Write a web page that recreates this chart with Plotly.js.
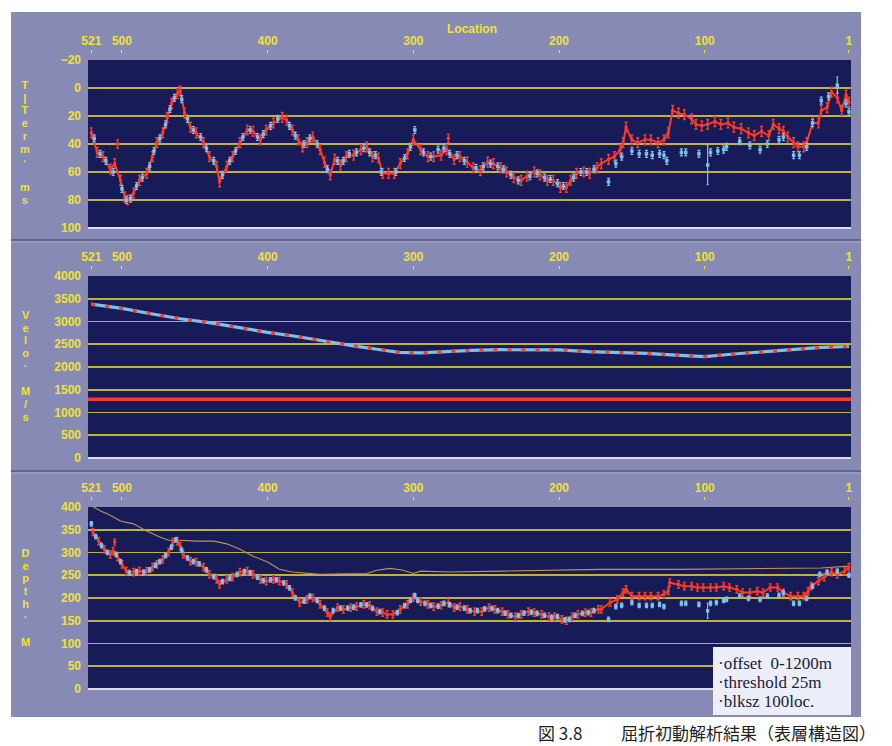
<!DOCTYPE html>
<html>
<head>
<meta charset="utf-8">
<script src="https://cdn.plot.ly/plotly-3.0.1.min.js"></script>
<style>html,body{margin:0;padding:0;background:#fff;}#chart{width:892px;height:746px;}</style>
</head>
<body>
<div id="chart"></div>
<script>
// ---------- data ----------
const xTickVals = [521, 500, 400, 300, 200, 100, 1];
const xTickText = ['521', '500', '400', '300', '200', '100', '1'];

// T-Term (ms) — red picks
const tRedLoc = [521,517,513,508,505,501,498,496,492,488,483,479,476,472,469,466,462,460,457,453,449,444,440,435,433,428,424,419,414,410,405,401,396,390,387,383,379,376,373,369,364,361,357,354,350,346,341,336,332,328,324,321,317,313,309,304,300,295,290,286,281,277,272,268,263,259,254,249,245,240,236,231,226,222,217,213,208,204,199,195,192,188,183,179,174,171,166,162,158,156,154,150,146,141,137,132,128,125,122,118,114,109,106,102,98,93,89,84,80,75,70,66,61,56,53,49,46,43,39,36,32,30,26,22,20,16,13,9,6,3,1];
const tRedVal = [32,46,49,58,54,66,78,80,75,66,61,49,39,32,21,11,4,2,18,28,32,39,49,56,67,56,49,39,30,31,37,30,25,21,23,30,37,42,39,35,44,53,62,51,55,49,48,44,42,49,50,61,61,61,54,47,37,44,49,49,48,44,51,49,53,57,59,53,54,57,60,64,66,63,60,62,66,66,71,71,66,61,60,61,57,54,51,49,44,39,28,37,39,37,37,39,37,32,16,18,19,22,26,27,26,24,26,25,28,29,32,34,31,34,26,29,31,35,39,42,42,39,25,25,16,14,3,7,16,5,10];
const tRedOutLoc = [503, 276];
const tRedOutVal = [40, 36];
// T-Term — blue picks
const tBlueLoc = [519,515,511,506,500,497,494,490,486,481,478,474,470,467,464,459,455,451,446,442,437,431,426,422,417,412,407,403,398,393,385,381,375,371,366,359,352,348,344,339,334,330,326,322,312,306,302,299,293,288,283,279,275,270,265,257,252,247,242,238,233,228,220,215,210,206,201,197,190,185,181,176,166,161,157,150,145,140,136,131,128,126,116,113,104,96,91,87,85,76,69,62,57,49,46,39,35,30,26,20,15,3,1];
const tBlueVal = [36,47,52,60,72,80,79,70,64,56,45,36,26,15,7,8,22,30,35,43,52,62,52,45,35,30,35,33,27,22,27,34,40,36,40,58,52,52,47,46,43,46,48,60,60,50,42,30,46,49,44,43,47,48,52,57,56,54,56,58,62,66,63,61,64,65,68,70,64,60,60,58,67,54,49,45,47,47,48,47,48,52,46,46,47,46,45,44,42,38,41,44,40,37,35,48,48,42,25,9,6,11,17];
const tBlueBarLoc = [98, 9];
const tBlueBarVal = [55, -2];
const tBlueBarErr = [14, 6];

// Velocity (m/s)
const vLoc = [521,500,480,460,440,420,400,380,360,340,325,310,295,280,260,240,220,200,180,160,140,120,100,80,60,40,20,1];
const vVal = [3380,3290,3170,3060,2975,2860,2760,2670,2560,2460,2390,2320,2310,2335,2365,2380,2385,2375,2340,2320,2300,2260,2230,2285,2330,2390,2430,2450];
const vRefLoc = [524, -1];
const vRefVal = [1290, 1290];

// Depth (m) — red picks
const dRedLoc = [520,516,512,508,506,503,500,497,492,488,483,479,476,472,468,465,462,460,458,453,449,444,440,435,433,428,424,419,414,410,405,401,396,392,387,383,378,373,369,364,359,357,352,348,343,339,334,330,325,321,318,314,309,304,300,295,290,286,281,276,272,268,263,258,253,248,244,239,235,230,226,221,217,212,207,203,198,195,191,187,182,178,173,171,165,160,156,154,150,145,141,137,132,128,125,124,118,114,109,105,101,96,92,87,83,78,74,69,64,60,55,50,46,41,36,32,29,27,22,18,13,9,4,1];
const dRedVal = [345,325,307,296,303,290,274,259,257,259,259,268,274,285,301,323,325,314,296,281,279,268,252,241,230,241,246,257,259,252,241,237,241,237,230,212,190,197,200,186,168,159,179,175,179,181,186,184,170,168,164,164,175,186,201,192,186,181,184,190,179,181,175,170,170,179,175,170,164,159,164,170,168,164,159,159,153,150,159,164,168,168,175,175,190,197,212,219,204,204,204,204,204,208,215,234,230,226,226,223,223,223,223,226,223,219,212,212,215,212,223,223,212,204,204,204,215,226,237,246,257,252,259,268];
const dRedOutLoc = [505];
const dRedOutVal = [323];
// Depth — blue picks
const dBlueLoc = [521,518,514,510,504,501,495,490,485,481,477,474,470,466,463,459,455,451,447,442,437,431,426,421,416,412,407,403,398,394,389,385,381,375,371,366,361,355,350,345,341,336,332,328,323,311,306,302,299,297,292,288,283,279,275,270,265,261,256,251,246,242,237,233,228,224,219,215,210,205,201,196,193,189,184,180,176,166,161,157,150,145,140,136,131,128,116,113,104,96,92,87,85,76,70,62,57,49,46,39,35,30,26,21,16,9,1];
const dBlueVal = [363,335,315,300,296,280,256,258,257,262,272,280,293,312,328,305,288,280,275,262,247,236,243,252,258,256,246,238,240,240,233,222,200,193,204,195,178,172,178,178,180,185,185,177,170,168,183,195,205,195,188,184,182,188,185,180,178,172,172,176,177,172,167,162,161,167,169,166,162,158,159,152,153,162,166,168,172,153,181,184,190,184,184,184,186,181,188,188,186,188,190,195,197,204,199,197,204,206,212,188,188,199,226,252,257,259,250];
const dBlueBarLoc = [98];
const dBlueBarVal = [172];
const dBlueBarErr = [17];
// Depth — thin reference line
const dLineLoc = [520,514,510,501,492,483,474,468,460,449,437,428,419,410,400,392,383,373,364,345,332,325,316,307,300,295,275,240,200,172,120,60,20,1];
const dLineVal = [401,390,385,369,363,347,334,327,327,325,325,319,307,292,279,263,257,254,252,253,254,261,265,261,254,259,257,259,261,263,263,265,266,270];

// ---------- styling ----------
const W = 892, H = 746;
const px = x => x / W, py = y => 1 - y / H;
const F = '"Liberation Sans", Arial, sans-serif';
const yellow = '#f0e236', grid = '#c2b23a', navy = '#171b58', bgGray = '#878ab4';
const red = '#ff3b26', blue = '#7cc0ee';
const xDom = [px(88), px(851)];
const xr = [523.3, -0.4];
const tickFont = {family: F, size: 12, color: yellow, weight: 'bold'};

function xax(pos) {
  return {domain: xDom, range: xr, anchor: 'free', position: pos, side: 'top',
    tickmode: 'array', tickvals: xTickVals, ticktext: xTickText,
    ticks: 'outside', ticklen: 3, tickwidth: 1, tickcolor: yellow,
    showgrid: false, zeroline: false, showline: false, tickfont: tickFont, fixedrange: true};
}
function yLab(dom, range, vals, anchor) {
  return {domain: dom, range: range, anchor: anchor, tickmode: 'array', tickvals: vals,
    showgrid: false, zeroline: false, showline: false, ticks: '', ticklabelstandoff: 6,
    tickfont: tickFont, fixedrange: true};
}
function yGrid(over, range, vals, anchor) {
  return {overlaying: over, anchor: anchor, range: range, tickmode: 'array', tickvals: vals,
    showgrid: true, gridcolor: grid, gridwidth: 1.6, showticklabels: false,
    zeroline: false, showline: false, ticks: '', fixedrange: true};
}

const traces = [
  // top panel
  {x: tRedLoc, y: tRedVal, xaxis: 'x', yaxis: 'y', type: 'scatter', mode: 'lines+markers',
   line: {color: red, width: 2}, marker: {color: red, size: 3, symbol: 'square'},
   error_y: {type: 'constant', value: 3.5, color: red, thickness: 1.4, width: 1.5}},
  {x: tRedOutLoc, y: tRedOutVal, xaxis: 'x', yaxis: 'y', type: 'scatter', mode: 'markers',
   marker: {color: red, size: 3, symbol: 'square'},
   error_y: {type: 'constant', value: 3, color: red, thickness: 1.3, width: 1.5}},
  {x: tBlueLoc, y: tBlueVal, xaxis: 'x', yaxis: 'y4', type: 'scatter', mode: 'markers',
   marker: {color: blue, size: 3.5, symbol: 'square'},
   error_y: {type: 'constant', value: 2.5, color: blue, thickness: 1.2, width: 1.5}},
  {x: tBlueBarLoc, y: tBlueBarVal, xaxis: 'x', yaxis: 'y4', type: 'scatter', mode: 'markers',
   marker: {color: blue, size: 3.5, symbol: 'square'},
   error_y: {type: 'data', array: tBlueBarErr, color: blue, thickness: 1.2, width: 1}},
  // middle panel
  {x: vRefLoc, y: vRefVal, xaxis: 'x2', yaxis: 'y2', type: 'scatter', mode: 'lines',
   line: {color: '#ff3a2c', width: 3.5}},
  {x: vLoc, y: vVal, xaxis: 'x2', yaxis: 'y5', type: 'scatter', mode: 'lines',
   line: {color: blue, width: 3.2}},
  {x: vLoc, y: vVal, xaxis: 'x2', yaxis: 'y5', type: 'scatter', mode: 'lines',
   line: {color: red, width: 3.2, dash: '4px,10px'}},
  // bottom panel
  {x: dLineLoc, y: dLineVal, xaxis: 'x3', yaxis: 'y3', type: 'scatter', mode: 'lines',
   line: {color: '#c09464', width: 1.1}},
  {x: dRedLoc, y: dRedVal, xaxis: 'x3', yaxis: 'y3', type: 'scatter', mode: 'lines+markers',
   line: {color: red, width: 2}, marker: {color: red, size: 3, symbol: 'square'},
   error_y: {type: 'constant', value: 8, color: red, thickness: 1.4, width: 1.5}},
  {x: dRedOutLoc, y: dRedOutVal, xaxis: 'x3', yaxis: 'y3', type: 'scatter', mode: 'markers',
   marker: {color: red, size: 3, symbol: 'square'},
   error_y: {type: 'constant', value: 7, color: red, thickness: 1.3, width: 1.5}},
  {x: dBlueLoc, y: dBlueVal, xaxis: 'x3', yaxis: 'y6', type: 'scatter', mode: 'markers',
   marker: {color: blue, size: 3.5, symbol: 'square'},
   error_y: {type: 'constant', value: 5, color: blue, thickness: 1.2, width: 1.5}},
  {x: dBlueBarLoc, y: dBlueBarVal, xaxis: 'x3', yaxis: 'y6', type: 'scatter', mode: 'markers',
   marker: {color: blue, size: 3.5, symbol: 'square'},
   error_y: {type: 'data', array: dBlueBarErr, color: blue, thickness: 1.2, width: 1}}
];

// vertical stacked axis titles: one text each; line pitch just above glyph height
const NB = '\u00a0';
const vTitles = [
  {chars: ['T','|','T','e','r','m','\u00b7',NB,'m','s'], y: 142.5},
  {chars: ['V','e','l','o','\u00b7',NB,'M','/','s'], y: 366.5},
  {chars: ['D','e','p','t','h','\u00b7',NB,'M'], y: 597.5}
];
const annotations = [];
vTitles.forEach(t => annotations.push({
  text: t.chars.map(c => '<span style="font-size:11px">' + c + '</span>').join('<br>'),
  xref: 'paper', yref: 'paper', x: px(25), y: py(t.y), xanchor: 'center', yanchor: 'middle',
  align: 'center', showarrow: false, font: {family: F, size: 9.8, color: yellow, weight: 'bold'}}));
annotations.push({text: 'Location', xref: 'paper', yref: 'paper', x: px(472), y: py(29),
  xanchor: 'center', yanchor: 'middle', showarrow: false, font: {family: F, size: 12, color: yellow, weight: 'bold'}});
const legendLines = [['\u00b7offset\u00a0\u00a00-1200m', 663], ['\u00b7threshold 25m', 682], ['\u00b7blksz 100loc.', 701]];
legendLines.forEach(([t, yy]) => annotations.push({text: t, xref: 'paper', yref: 'paper', x: px(716), y: py(yy),
  xanchor: 'left', yanchor: 'middle', showarrow: false,
  font: {family: '"Liberation Serif", "Times New Roman", serif', size: 17, color: '#20203c'}}));
const capFont = {family: '"Noto Sans CJK JP", sans-serif', size: 17, color: '#1e1e1e'};
annotations.push({text: '図 3.8', xref: 'paper', yref: 'paper', x: px(536), y: py(732), xanchor: 'left', yanchor: 'middle', showarrow: false, font: capFont});
annotations.push({text: '屈折初動解析結果（表層構造図）', xref: 'paper', yref: 'paper', x: px(619), y: py(732), xanchor: 'left', yanchor: 'middle', showarrow: false, font: capFont});

const shapes = [
  // white paper outside the grey board
  {type: 'rect', xref: 'paper', yref: 'paper', x0: 0, x1: 1, y0: py(12), y1: 1, fillcolor: '#fff', line: {width: 0}, layer: 'below'},
  {type: 'rect', xref: 'paper', yref: 'paper', x0: 0, x1: 1, y0: 0, y1: py(717), fillcolor: '#fff', line: {width: 0}, layer: 'below'},
  {type: 'rect', xref: 'paper', yref: 'paper', x0: 0, x1: px(11), y0: 0, y1: 1, fillcolor: '#fff', line: {width: 0}, layer: 'below'},
  {type: 'rect', xref: 'paper', yref: 'paper', x0: px(861), x1: 1, y0: 0, y1: 1, fillcolor: '#fff', line: {width: 0}, layer: 'below'},
  // panel separators
  {type: 'line', xref: 'paper', yref: 'paper', x0: px(11), x1: px(861), y0: py(240), y1: py(240), line: {color: '#56587c', width: 1.5}, layer: 'below'},
  {type: 'line', xref: 'paper', yref: 'paper', x0: px(11), x1: px(861), y0: py(242), y1: py(242), line: {color: '#a3a6cc', width: 1}, layer: 'below'},
  {type: 'line', xref: 'paper', yref: 'paper', x0: px(11), x1: px(861), y0: py(471), y1: py(471), line: {color: '#56587c', width: 1.5}, layer: 'below'},
  {type: 'line', xref: 'paper', yref: 'paper', x0: px(11), x1: px(861), y0: py(473), y1: py(473), line: {color: '#a3a6cc', width: 1}, layer: 'below'},
  // light baseline under each plot
  {type: 'line', xref: 'x domain', yref: 'y domain', x0: 0, x1: 1, y0: 0, y1: 0, line: {color: '#dcdff2', width: 2}},
  {type: 'line', xref: 'x2 domain', yref: 'y2 domain', x0: 0, x1: 1, y0: 0, y1: 0, line: {color: '#dcdff2', width: 2}},
  {type: 'line', xref: 'x3 domain', yref: 'y3 domain', x0: 0, x1: 1, y0: 0, y1: 0, line: {color: '#dcdff2', width: 2}},
  // legend box
  {type: 'rect', xref: 'paper', yref: 'paper', x0: px(713), x1: px(851), y0: py(715), y1: py(647), fillcolor: '#eceffa', line: {width: 0}, layer: 'above'}
];

const layout = {
  width: W, height: H, margin: {l: 0, r: 0, t: 0, b: 0},
  paper_bgcolor: bgGray, plot_bgcolor: navy, showlegend: false, hovermode: false,
  xaxis: xax(py(53)), xaxis2: xax(py(269)), xaxis3: xax(py(500)),
  yaxis: yLab([py(228), py(60)], [100, -20], [-20, 0, 20, 40, 60, 80, 100], 'x'),
  yaxis4: yGrid('y', [100, -20], [0, 20, 40, 60, 80], 'x'),
  yaxis2: yLab([py(458), py(276)], [0, 4000], [0, 500, 1000, 1500, 2000, 2500, 3000, 3500, 4000], 'x2'),
  yaxis5: yGrid('y2', [0, 4000], [500, 1000, 1500, 2000, 2500, 3000, 3500], 'x2'),
  yaxis3: yLab([py(689), py(507)], [0, 400], [0, 50, 100, 150, 200, 250, 300, 350, 400], 'x3'),
  yaxis6: yGrid('y3', [0, 400], [50, 100, 150, 200, 250, 300, 350], 'x3'),
  shapes: shapes, annotations: annotations
};
Plotly.newPlot('chart', traces, layout, {staticPlot: true, displayModeBar: false});
</script>
</body>
</html>
